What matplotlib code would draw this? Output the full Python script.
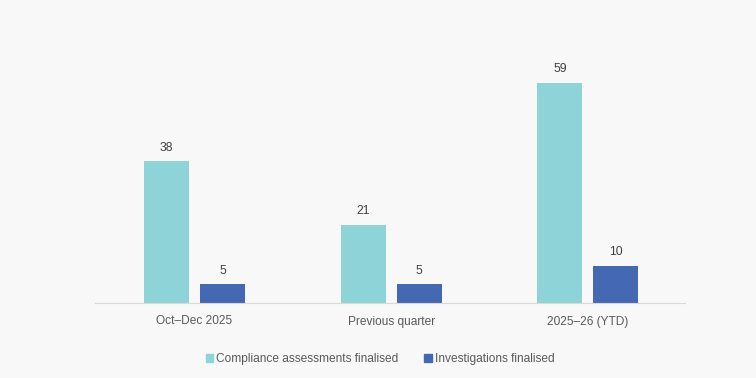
import matplotlib
matplotlib.use("Agg")
import matplotlib.pyplot as plt
import numpy as np
from matplotlib.patches import Patch

categories = ["Oct\u2013Dec 2025", "Previous quarter", "2025\u201326 (YTD)"]
compliance = [38, 21, 59]
investigations = [5, 5, 10]
series_names = ["Compliance assessments finalised", "Investigations finalised"]

plt.rcParams['font.family'] = ['Liberation Sans', 'DejaVu Sans']
bg = '#f8f8f8'
teal = '#8ed3d7'
blue = '#4468b2'
txt = '#595959'

fig = plt.figure(figsize=(7.56, 3.78), dpi=100, facecolor=bg)
W, H = 756, 378
left, right, bottom, top = 95, 685, 303, 30
ax = fig.add_axes([left / W, (H - bottom) / H, (right - left) / W, (bottom - top) / H])
ax.set_facecolor(bg)

px_per_unit = 220 / 59
ymax = (bottom - top) / px_per_unit
x = np.arange(len(categories))
w = 45 / (590 / 3)
off = 28 / (590 / 3)
b1 = ax.bar(x - off, compliance, w, color=teal)
b2 = ax.bar(x + off, investigations, w, color=blue)
for bars, vals in ((b1, compliance), (b2, investigations)):
    for r, v in zip(bars, vals):
        ax.annotate(str(v), (r.get_x() + r.get_width() / 2, r.get_height()),
                    xytext=(0, 5.5), textcoords='offset points', ha='center', va='bottom',
                    fontsize=8.8, color='#404040')

ax.set_xlim(-0.506, len(categories) - 0.506)
ax.set_ylim(0, ymax)
ax.set_xticks(x)
ax.set_xticklabels(categories, fontsize=8.6, color=txt)
ax.tick_params(axis='x', length=0, pad=9)
ax.set_yticks([])
for s in ('top', 'right', 'left'):
    ax.spines[s].set_visible(False)
ax.spines['bottom'].set_color('#d9d9d9')

handles = [Patch(color=teal), Patch(color=blue)]
fig.legend(handles, series_names, loc='center', bbox_to_anchor=(0.5 + 2 / W, (H - 359) / H),
           ncol=2, frameon=False, fontsize=8.6, labelcolor=txt, handlelength=0.6,
           handleheight=0.6, handletextpad=0.25, columnspacing=2.2)

fig.savefig('out.png', dpi=100, facecolor=bg)
